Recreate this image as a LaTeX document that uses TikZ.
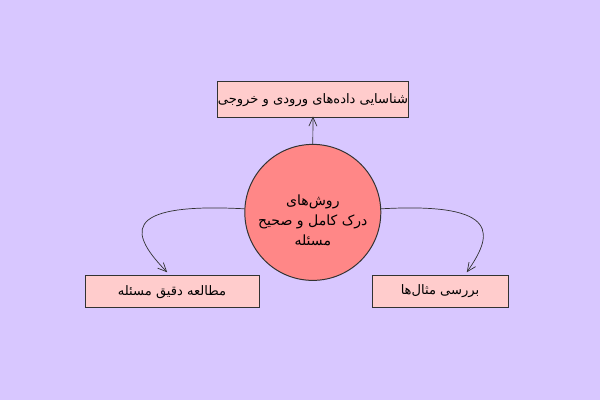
\documentclass[tikz,border=0pt]{standalone}
\usepackage{fontspec}
\setmainfont{DejaVu Sans}
\newfontfamily\arabicfont[Script=Arabic]{DejaVu Sans}
\TeXXeTstate=1
\usepackage{tikz}
\usetikzlibrary{arrows.meta}
\definecolor{bgcol}{RGB}{216,199,255}
\definecolor{circcol}{RGB}{255,135,135}
\definecolor{boxcol}{RGB}{255,204,204}
\definecolor{linecol}{RGB}{50,50,50}

\tikzset{
    stepbox/.style={draw=linecol,fill=boxcol,line width=0.7pt,inner sep=0pt,font=\arabicfont\fontsize{9.3}{12}\selectfont},
    mainidea/.style={circle,draw=linecol,fill=circcol,line width=0.7pt,minimum size=3.4cm},
    conn/.style={draw=linecol,line width=0.5pt,-{Straight Barb[length=2.2mm,width=2mm]}}
}

\begin{document}
\begin{tikzpicture}
        \fill[bgcol](0,0) rectangle (15,10);
        \useasboundingbox (0,0) rectangle (15,10);
        \node[mainidea] (circ) at (7.82,4.69) {};
        \node[align=center,font=\arabicfont\fontsize{10}{14.2}\selectfont] (ctext) at (7.82,4.5) {\beginR روش‌های\endR\\\beginR درک کامل و صحیح\endR\\\beginR مسئله\endR};
        \node[stepbox,minimum width=4.75cm,minimum height=0.9cm] (tbox) at (7.825,7.5) {\beginR شناسایی داده‌های ورودی و خروجی\endR};
        \node[stepbox,minimum width=4.35cm,minimum height=0.8cm] (lbox) at (4.3,2.7) {\beginR مطالعه دقیق مسئله\endR};
        \node[stepbox,minimum width=3.4cm,minimum height=0.78cm] (rbox) at (11.0,2.71) {\beginR بررسی مثال‌ها\endR};
        \draw[conn](circ.north)--([yshift=0.05cm]tbox.south);
        \draw[conn](circ.177) .. controls (2.9,4.95) and (3.3,4.1) .. ([xshift=-0.12cm,yshift=0.08cm]lbox.north);
        \draw[conn](circ.3) .. controls (12.6,4.95) and (12.3,4.1) .. ([xshift=0.67cm,yshift=0.08cm]rbox.north);
    \end{tikzpicture}
\end{document}
